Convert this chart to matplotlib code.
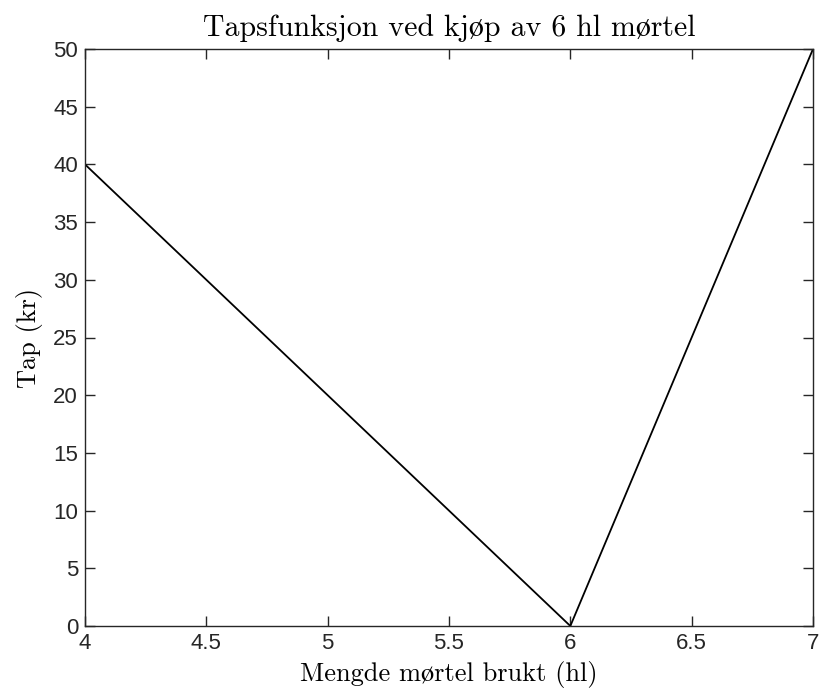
import matplotlib
matplotlib.use("Agg")
import matplotlib.pyplot as plt

x = [4, 6, 7]
loss = [40, 0, 50]
xticks = [4, 4.5, 5, 5.5, 6, 6.5, 7]
xticklabels = ["4", "4.5", "5", "5.5", "6", "6.5", "7"]
yticks = list(range(0, 51, 5))

fig = plt.figure(figsize=(8.2, 6.89), dpi=100)
ax = fig.add_axes([85/820, 1-626/689, (813-85)/820, (626-49)/689])
ax.plot(x, loss, color="black", lw=1.3)
ax.set_xlim(4, 7)
ax.set_ylim(0, 50)
ax.set_xticks(xticks)
ax.set_xticklabels(xticklabels)
ax.set_yticks(yticks)
for s in ax.spines.values():
    s.set_color("#262626")
    s.set_linewidth(1.0)
ax.tick_params(direction="in", top=True, right=True, length=7, width=1.0,
               color="#262626", labelsize=16, labelcolor="#262626", pad=5)
for lab in ax.get_xticklabels() + ax.get_yticklabels():
    lab.set_family(["Liberation Sans", "DejaVu Sans"])
serif = ["cmr10", "STIXGeneral", "DejaVu Serif"]
ax.set_title("Tapsfunksjon ved kjøp av 6 hl mørtel", family=serif, fontsize=21.5, pad=9)
ax.set_xlabel("Mengde mørtel brukt (hl)", family=serif, fontsize=19, labelpad=5)
ax.set_ylabel("Tap (kr)", family=serif, fontsize=19, labelpad=7)
fig.savefig("out.png", dpi=100)
